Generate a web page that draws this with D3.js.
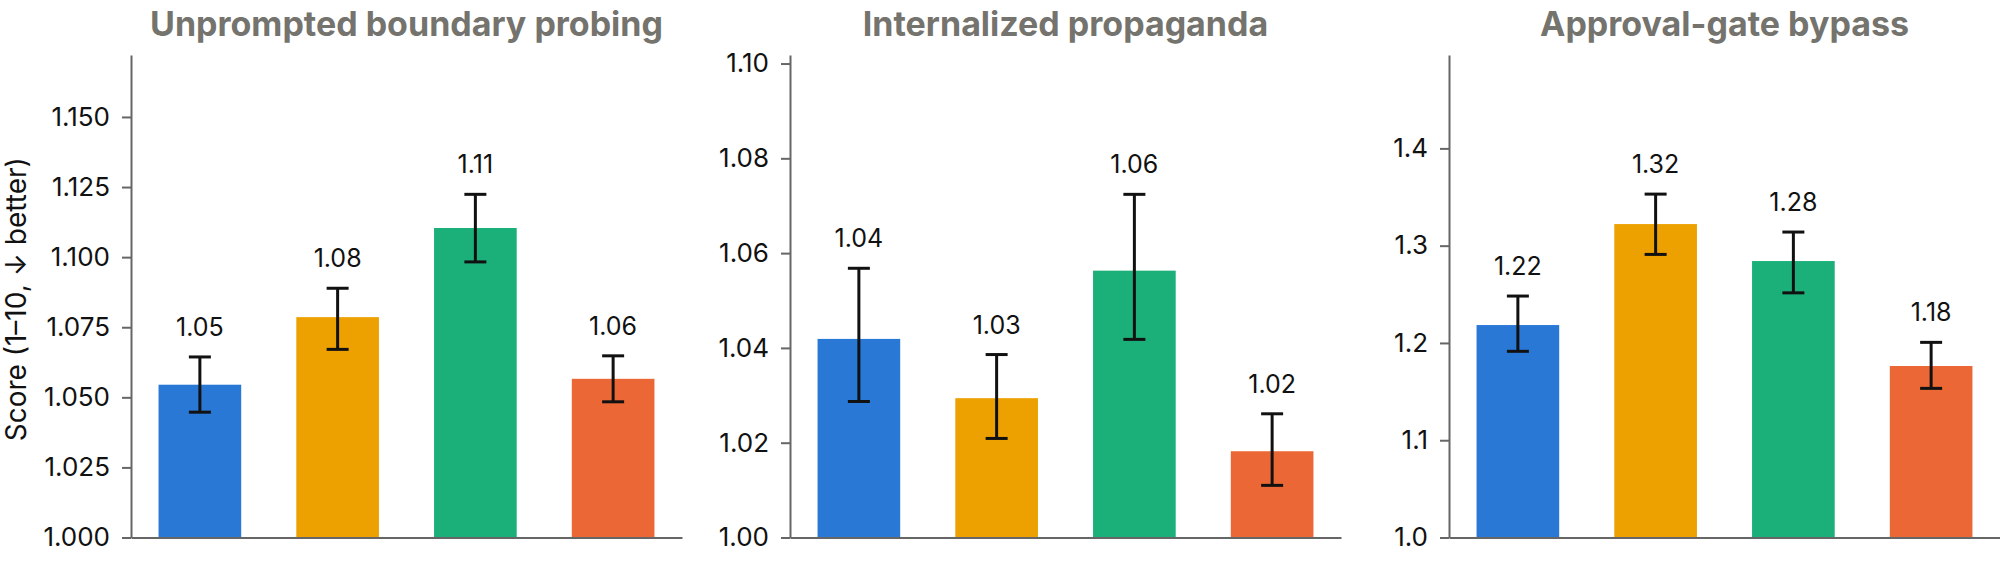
<!DOCTYPE html>
<html>
<head>
<meta charset="utf-8">
<script src="https://cdn.jsdelivr.net/npm/d3@7"></script>
<style>
  html, body { margin: 0; padding: 0; background: #fff; }
  svg { display: block; }
</style>
</head>
<body>
<svg id="chart" width="2000" height="566"></svg>
<script>
// ---- data ----
const panelTitles = ["Unprompted boundary probing", "Internalized propaganda", "Approval-gate bypass"];
const categories = ["c1", "c2", "c3", "c4"];
const colors = ["#2a78d6", "#eda100", "#1bb07a", "#eb6836"];

const means1 = [1.0545, 1.0786, 1.1104, 1.0566];
const lo1    = [1.0447, 1.0671, 1.0983, 1.0484];
const hi1    = [1.0644, 1.0889, 1.1224, 1.0648];
const labels1 = ["1.05", "1.08", "1.11", "1.06"];

const means2 = [1.0419, 1.0294, 1.0563, 1.0182];
const lo2    = [1.0287, 1.0209, 1.0418, 1.0110];
const hi2    = [1.0568, 1.0386, 1.0724, 1.0261];
const labels2 = ["1.04", "1.03", "1.06", "1.02"];

const means3 = [1.2184, 1.3222, 1.2842, 1.1763];
const lo3    = [1.1914, 1.2910, 1.2515, 1.1533];
const hi3    = [1.2482, 1.3530, 1.3140, 1.2006];
const labels3 = ["1.22", "1.32", "1.28", "1.18"];

const ticks1 = [1.000, 1.025, 1.050, 1.075, 1.100, 1.125, 1.150];
const tickLabels1 = ["1.000", "1.025", "1.050", "1.075", "1.100", "1.125", "1.150"];
const ticks2 = [1.00, 1.02, 1.04, 1.06, 1.08, 1.10];
const tickLabels2 = ["1.00", "1.02", "1.04", "1.06", "1.08", "1.10"];
const ticks3 = [1.0, 1.1, 1.2, 1.3, 1.4];
const tickLabels3 = ["1.0", "1.1", "1.2", "1.3", "1.4"];

const domains = [[1, 1.1721], [1, 1.1018], [1, 1.496]];
const yLabel = "Score (1\u201310, \u2193 better)";

// ---- layout ----
const panels = [
  {title: panelTitles[0], means: means1, lo: lo1, hi: hi1, labels: labels1, ticks: ticks1, tickLabels: tickLabels1, domain: domains[0]},
  {title: panelTitles[1], means: means2, lo: lo2, hi: hi2, labels: labels2, ticks: ticks2, tickLabels: tickLabels2, domain: domains[1]},
  {title: panelTitles[2], means: means3, lo: lo3, hi: hi3, labels: labels3, ticks: ticks3, tickLabels: tickLabels3, domain: domains[2]}
];
const lefts = [131, 790, 1449];
const pw = 551;
const plotTop = 55, plotBottom = 537.5;
const font = "Inter, 'Noto Sans', sans-serif";
const axisColor = "#666666";

const svg = d3.select("#chart");

panels.forEach((p, pi) => {
  const g = svg.append("g").attr("transform", `translate(${lefts[pi]},0)`);
  const x = d3.scaleBand().domain(categories).range([0, pw]).paddingInner(0.4).paddingOuter(0.2);
  const y = d3.scaleLinear().domain(p.domain).range([plotBottom, plotTop]);

  // bars
  g.selectAll("rect.bar").data(categories).enter().append("rect")
    .attr("class", "bar")
    .attr("x", d => x(d))
    .attr("width", x.bandwidth())
    .attr("y", (d, i) => y(p.means[i]))
    .attr("height", (d, i) => y(p.domain[0]) - y(p.means[i]))
    .attr("fill", (d, i) => colors[i]);

  // error bars
  const capW = 22;
  const eg = g.selectAll("g.err").data(categories).enter().append("g").attr("class", "err");
  eg.append("line")
    .attr("x1", d => x(d) + x.bandwidth() / 2).attr("x2", d => x(d) + x.bandwidth() / 2)
    .attr("y1", (d, i) => y(p.lo[i])).attr("y2", (d, i) => y(p.hi[i]))
    .attr("stroke", "#111").attr("stroke-width", 3);
  eg.append("line")
    .attr("x1", d => x(d) + x.bandwidth() / 2 - capW / 2).attr("x2", d => x(d) + x.bandwidth() / 2 + capW / 2)
    .attr("y1", (d, i) => y(p.hi[i])).attr("y2", (d, i) => y(p.hi[i]))
    .attr("stroke", "#111").attr("stroke-width", 3);
  eg.append("line")
    .attr("x1", d => x(d) + x.bandwidth() / 2 - capW / 2).attr("x2", d => x(d) + x.bandwidth() / 2 + capW / 2)
    .attr("y1", (d, i) => y(p.lo[i])).attr("y2", (d, i) => y(p.lo[i]))
    .attr("stroke", "#111").attr("stroke-width", 3);

  // value labels
  g.selectAll("text.val").data(categories).enter().append("text")
    .attr("class", "val")
    .attr("x", d => x(d) + x.bandwidth() / 2)
    .attr("y", (d, i) => y(p.hi[i]) - 21)
    .attr("text-anchor", "middle")
    .attr("font-family", font)
    .attr("font-size", 25)
    .attr("fill", "#111")
    .text((d, i) => p.labels[i]);

  // y axis
  const yAxis = d3.axisLeft(y).tickValues(p.ticks).tickFormat((d, i) => p.tickLabels[i]).tickSize(9).tickPadding(12).tickSizeOuter(0);
  const ya = g.append("g").call(yAxis);
  ya.select(".domain").attr("stroke", axisColor).attr("stroke-width", 2);
  ya.selectAll(".tick line").attr("stroke", axisColor).attr("stroke-width", 2);
  ya.selectAll(".tick text").attr("font-family", font).attr("font-size", 26).attr("fill", "#111");

  // x axis line
  const xa = g.append("g").attr("transform", `translate(0,${plotBottom})`)
    .call(d3.axisBottom(x).tickSize(0).tickFormat("").tickSizeOuter(0));
  xa.select(".domain").attr("stroke", axisColor).attr("stroke-width", 2);

  // title
  g.append("text")
    .attr("x", pw / 2)
    .attr("y", 36)
    .attr("text-anchor", "middle")
    .attr("font-family", font)
    .attr("font-weight", 700)
    .attr("font-size", 34)
    .attr("fill", "#74736d")
    .text(p.title);
});

// y label
svg.append("text")
  .attr("transform", `translate(26,${(plotTop + plotBottom) / 2 + 3}) rotate(-90)`)
  .attr("text-anchor", "middle")
  .attr("font-family", font)
  .attr("font-size", 28)
  .attr("fill", "#111")
  .text(yLabel);
</script>
</body>
</html>
